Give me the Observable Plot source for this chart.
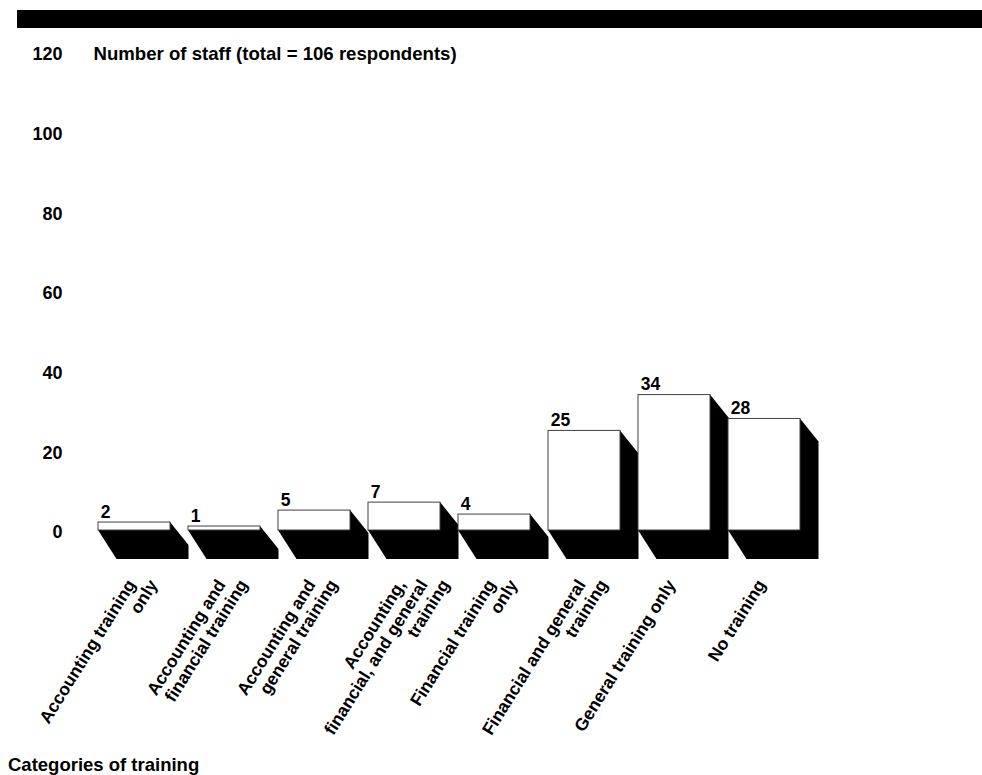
<!DOCTYPE html>
<html>
<head>
<meta charset="utf-8">
<script src="https://cdn.jsdelivr.net/npm/d3@7"></script>
<script src="https://cdn.jsdelivr.net/npm/@observablehq/plot@0.6"></script>
<style>
  html, body { margin: 0; padding: 0; background: #fff; }
  body { font-family: "Liberation Sans", Arial, sans-serif; width: 982px; height: 775px; position: relative; overflow: hidden; }
  #topbar { position: absolute; left: 17px; top: 10px; width: 965px; height: 18px; background: #000; }
  #chart { position: absolute; left: 0; top: 28px; }
  #caption { position: absolute; left: 8px; top: 754px; font-weight: bold; font-size: 18.5px; line-height: 22px; color: #000; }
</style>
</head>
<body>
<div id="topbar"></div>
<div id="chart"></div>
<div id="caption">Categories of training</div>
<script>
// ---- data ----
const categories = [
  "Accounting training only",
  "Accounting and financial training",
  "Accounting and general training",
  "Accounting, financial, and general training",
  "Financial training only",
  "Financial and general training",
  "General training only",
  "No training"
];
const values = [2, 1, 5, 7, 4, 25, 34, 28];
const labelLines = [
  ["Accounting training", "only"],
  ["Accounting and", "financial training"],
  ["Accounting and", "general training"],
  ["Accounting,", "financial, and general", "training"],
  ["Financial training", "only"],
  ["Financial and general", "training"],
  ["General training only"],
  ["No training"]
];
const yTicks = [0, 20, 40, 60, 80, 100, 120];
const title = "Number of staff (total = 106 respondents)";

// ---- derived tables ----
const data = categories.map((c, i) => ({cat: c, value: values[i]}));
const labelRows = labelLines.flatMap((lines, c) => lines.map((t, i) => ({cat: categories[c], text: t, i})));

// 3-D extrusion offsets (style)
const DX = 18.5, DY_TOP = 23, DY_BOTTOM = 29;

function shadowMark(index, scales) {
  const x = scales.x, y = scales.y;
  const bw = x.bandwidth();
  const y0 = y(0);
  const g = d3.create("svg:g").attr("fill", "#000").attr("stroke", "none");
  data.forEach(d => {
    const x0 = x(d.cat), x1 = x0 + bw, yt = y(d.value);
    g.append("path").attr("d",
      `M${x0},${y0}L${x0 + DX},${y0 + DY_BOTTOM}L${x1 + DX},${y0 + DY_BOTTOM}L${x1 + DX},${yt + DY_TOP}L${x1},${yt}Z`);
  });
  return g.node();
}

const W = 982, H = 720;
const mL = 95, mR = 179.5;
const step = (W - mL - mR) / (categories.length - 0.2);
const bw = step * 0.8;

const lineMarks = [0, 1, 2].map(k => Plot.text(labelRows.filter(d => d.i === k), {
  x: "cat",
  text: "text",
  frameAnchor: "bottom",
  rotate: -58,
  textAnchor: "end",
  lineAnchor: "middle",
  dx: -3 + 22 * k,
  dy: 51,
  fontSize: 17.5,
  fontWeight: "bold",
  fill: "#000"
}));

const chart = Plot.plot({
  width: W,
  height: H,
  marginLeft: mL,
  marginRight: mR,
  marginTop: 24,
  marginBottom: 218,
  style: {fontFamily: "'Liberation Sans', Arial, sans-serif", fontWeight: "bold", color: "#000", background: "transparent"},
  x: {domain: categories, paddingInner: 0.2, paddingOuter: 0, axis: null},
  y: {domain: [0, 120], axis: null},
  marks: [
    Plot.axisY({ticks: yTicks, tickSize: 0, tickPadding: 33, fontSize: 18, fontWeight: "bold", dy: 2, label: null, tickFormat: d => String(d)}),
    shadowMark,
    Plot.barY(data, {x: "cat", y: "value", fill: "#fff", stroke: "#404040", strokeWidth: 1}),
    Plot.text(data, {x: "cat", y: "value", text: d => String(d.value), textAnchor: "start", lineAnchor: "middle", dx: -bw / 2 + 2.5, dy: -10.5, fontSize: 17.5, fontWeight: "bold", fill: "#000"}),
    Plot.text([title], {frameAnchor: "top-left", text: d => d, textAnchor: "start", lineAnchor: "middle", dx: -2, dy: 2, fontSize: 18.6, fontWeight: "bold", fill: "#000"}),
    ...lineMarks
  ]
});
document.getElementById("chart").appendChild(chart);
</script>
</body>
</html>
